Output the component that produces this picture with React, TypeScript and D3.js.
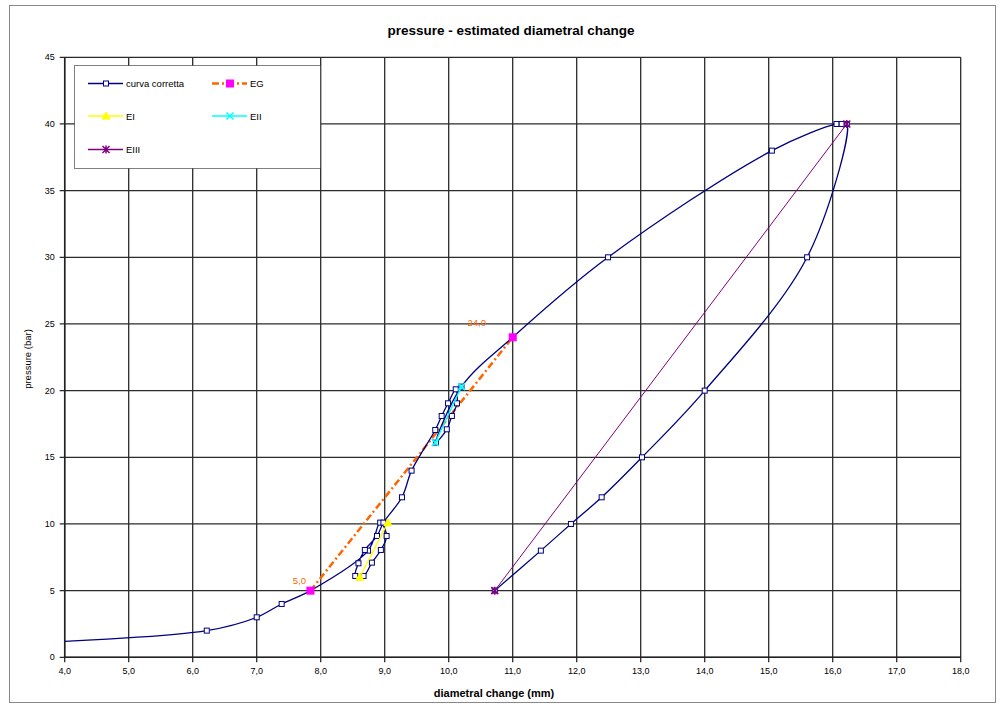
import React from 'react';
import * as d3 from 'd3';

const xTicks = [4, 5, 6, 7, 8, 9, 10, 11, 12, 13, 14, 15, 16, 17, 18];
const yTicks = [0, 5, 10, 15, 20, 25, 30, 35, 40, 45];

// "curva corretta" (measured, smoothed)
const curvaX = [4.0, 6.22, 7.0, 7.39, 7.84, 8.74, 8.93, 9.03, 8.94, 8.8, 8.67, 8.54, 8.59, 8.69, 8.88, 8.98, 9.27, 9.42, 9.79, 9.89, 9.99, 10.11, 10.13, 10.05, 9.97, 9.8, 10.2, 11.0, 12.49, 15.05, 16.06, 16.14, 16.22, 15.6, 14.0, 13.02, 12.39, 11.91, 11.44, 10.72];
const curvaY = [1.2, 2, 3, 4, 5, 8, 10.1, 9.1, 8.05, 7.1, 6.1, 6.1, 7.05, 8.05, 9.1, 10.1, 12, 14, 17.05, 18.1, 19.05, 20.1, 19.05, 18.1, 17.1, 16.1, 20.3, 24, 30, 38, 40, 40, 40, 30, 20, 15, 12, 10, 8, 5];

const egX = [7.84, 11.0];
const egY = [5, 24];
const egLabels = ['5,0', '24,0'];

const eiX = [8.61, 9.05];
const eiY = [6.0, 10.1];

const eiiX = [9.79, 10.2];
const eiiY = [16.1, 20.3];

const eiiiX = [10.72, 16.22];
const eiiiY = [5, 40];

const legendNames = ['curva corretta', 'EG', 'EI', 'EII', 'EIII'];

const NAVY = '#000080';
const ORANGE = '#FF6600';
const MAGENTA = '#FF00FF';
const YELLOW = '#FFFF00';
const CYAN = '#00FFFF';
const PURPLE = '#800080';
const FONT = '"Liberation Sans", Arial, sans-serif';

const x = d3.scaleLinear().domain([4, 18]).range([64.7, 960.7]);
const y = d3.scaleLinear().domain([0, 45]).range([657.3, 57.3]);

const fmt = (v: number) => v.toFixed(1).replace('.', ',');

function Square({ cx, cy, s, fill, stroke }: any) {
  return <rect x={cx - s / 2} y={cy - s / 2} width={s} height={s} fill={fill} stroke={stroke} strokeWidth={1} />;
}
function Tri({ cx, cy, color }: any) {
  return <path d={`M${cx},${cy - 4}L${cx + 4},${cy + 3}L${cx - 4},${cy + 3}Z`} fill={color} stroke={color} />;
}
function XMark({ cx, cy, color }: any) {
  return <path d={`M${cx - 3.5},${cy - 3.5}L${cx + 3.5},${cy + 3.5}M${cx + 3.5},${cy - 3.5}L${cx - 3.5},${cy + 3.5}`} stroke={color} strokeWidth={1.5} />;
}
function Star({ cx, cy, color }: any) {
  return <path d={`M${cx - 3.5},${cy - 3.5}L${cx + 3.5},${cy + 3.5}M${cx + 3.5},${cy - 3.5}L${cx - 3.5},${cy + 3.5}M${cx},${cy - 4}L${cx},${cy + 4}`} stroke={color} strokeWidth={1.5} />;
}

export default function App() {
  const curvaPts: [number, number][] = curvaX.map((v, i) => [x(v), y(curvaY[i])]);
  const smooth = d3.line().curve(d3.curveCatmullRom.alpha(0.5));
  const straight = d3.line();
  const egPts: [number, number][] = egX.map((v, i) => [x(v), y(egY[i])]);
  const eiPts: [number, number][] = eiX.map((v, i) => [x(v), y(eiY[i])]);
  const eiiPts: [number, number][] = eiiX.map((v, i) => [x(v), y(eiiY[i])]);
  const eiiiPts: [number, number][] = eiiiX.map((v, i) => [x(v), y(eiiiY[i])]);
  const [x0, x1] = x.range();
  const [y0, y1] = y.range();
  const labelOffsets = [[-11, -7], [-36, -11]];

  const legendItems = [
    { name: legendNames[0], lx: 88, ly: 83.5 },
    { name: legendNames[1], lx: 212, ly: 83.5 },
    { name: legendNames[2], lx: 88, ly: 116 },
    { name: legendNames[3], lx: 212, ly: 116 },
    { name: legendNames[4], lx: 88, ly: 149.5 },
  ];

  return (
    <svg width={1008} height={707} style={{ position: 'absolute', left: 0, top: 0, background: '#fff' }} fontFamily={FONT}>
      <rect x={0} y={0} width={1008} height={707} fill="#fff" />
      <rect x={9.5} y={5.5} width={986} height={697} fill="none" stroke="#888" strokeWidth={1} />
      <defs>
        <clipPath id="plot">
          <rect x={x0} y={y1} width={x1 - x0} height={y0 - y1} />
        </clipPath>
      </defs>
      <text x={511} y={35} textAnchor="middle" fontSize={13.5} fontWeight="bold" fill="#000">pressure - estimated diametral change</text>

      {/* grid */}
      {xTicks.map((t) => (
        <line key={'gx' + t} x1={x(t)} x2={x(t)} y1={y1} y2={y0 + 5} stroke="#2a2a2a" strokeWidth={1.3} />
      ))}
      {yTicks.map((t) => (
        <line key={'gy' + t} x1={x0 - 5} x2={x1} y1={y(t)} y2={y(t)} stroke="#2a2a2a" strokeWidth={1.3} />
      ))}
      <line x1={x0} x2={x0} y1={y1} y2={y0} stroke="#222" strokeWidth={1.5} />
      <line x1={x0} x2={x1} y1={y0} y2={y0} stroke="#222" strokeWidth={1.5} />

      {/* tick labels */}
      {xTicks.map((t) => (
        <text key={'tx' + t} x={x(t)} y={y0 + 17} textAnchor="middle" fontSize={9} fill="#000">{fmt(t)}</text>
      ))}
      {yTicks.map((t) => (
        <text key={'ty' + t} x={x0 - 10} y={y(t) + 3} textAnchor="end" fontSize={9} fill="#000">{t}</text>
      ))}
      <text x={494} y={697} textAnchor="middle" fontSize={11} fontWeight="bold" fill="#000">diametral change (mm)</text>
      <text transform="translate(31,359) rotate(-90)" textAnchor="middle" fontSize={9.5} fill="#000">pressure (bar)</text>

      <g clipPath="url(#plot)">
        {/* EIII */}
        <path d={straight(eiiiPts) || ''} fill="none" stroke={PURPLE} strokeWidth={1} />
        {/* EG */}
        <path d={straight(egPts) || ''} fill="none" stroke={ORANGE} strokeWidth={2.5} strokeDasharray="7 3 2 3" />
        {/* curva corretta */}
        <path d={smooth(curvaPts) || ''} fill="none" stroke={NAVY} strokeWidth={1.3} />
        {curvaPts.slice(1).map((p, i) => (
          <Square key={'c' + i} cx={p[0]} cy={p[1]} s={5} fill="#fff" stroke={NAVY} />
        ))}
        {/* EI */}
        <path d={straight(eiPts) || ''} fill="none" stroke={YELLOW} strokeWidth={1.3} />
        {eiPts.map((p, i) => <Tri key={'ei' + i} cx={p[0]} cy={p[1]} color={YELLOW} />)}
        {/* EII */}
        <path d={straight(eiiPts) || ''} fill="none" stroke={CYAN} strokeWidth={1.3} />
        {eiiPts.map((p, i) => <XMark key={'eii' + i} cx={p[0]} cy={p[1]} color={CYAN} />)}
        {egPts.map((p, i) => <Square key={'eg' + i} cx={p[0]} cy={p[1]} s={7} fill={MAGENTA} stroke={MAGENTA} />)}
        {eiiiPts.map((p, i) => <Star key={'eiii' + i} cx={p[0]} cy={p[1]} color={PURPLE} />)}
      </g>
      {egPts.map((p, i) => (
        <text key={'egl' + i} x={p[0] + labelOffsets[i][0]} y={p[1] + labelOffsets[i][1]} textAnchor="middle" fontSize={9.5} fill={ORANGE}>{egLabels[i]}</text>
      ))}

      {/* legend */}
      <rect x={74.5} y={65.5} width={246} height={103} fill="#fff" stroke="#000" strokeWidth={1} strokeDasharray="1 1" />
      {legendItems.map((it, i) => {
        const mx = it.lx + 18;
        return (
          <g key={'lg' + i}>
            {i === 0 && <line x1={it.lx} x2={it.lx + 35} y1={it.ly} y2={it.ly} stroke={NAVY} strokeWidth={1.3} />}
            {i === 0 && <Square cx={mx} cy={it.ly} s={5} fill="#fff" stroke={NAVY} />}
            {i === 1 && <line x1={it.lx} x2={it.lx + 35} y1={it.ly} y2={it.ly} stroke={ORANGE} strokeWidth={2.5} strokeDasharray="7 3 2 3" />}
            {i === 1 && <Square cx={mx} cy={it.ly} s={7} fill={MAGENTA} stroke={MAGENTA} />}
            {i === 2 && <line x1={it.lx} x2={it.lx + 35} y1={it.ly} y2={it.ly} stroke={YELLOW} strokeWidth={1.3} />}
            {i === 2 && <Tri cx={mx} cy={it.ly} color={YELLOW} />}
            {i === 3 && <line x1={it.lx} x2={it.lx + 35} y1={it.ly} y2={it.ly} stroke={CYAN} strokeWidth={1.3} />}
            {i === 3 && <XMark cx={mx} cy={it.ly} color={CYAN} />}
            {i === 4 && <line x1={it.lx} x2={it.lx + 35} y1={it.ly} y2={it.ly} stroke={PURPLE} strokeWidth={1.3} />}
            {i === 4 && <Star cx={mx} cy={it.ly} color={PURPLE} />}
            <text x={it.lx + 38} y={it.ly + 3.5} fontSize={9.5} fill="#000">{it.name}</text>
          </g>
        );
      })}
    </svg>
  );
}
